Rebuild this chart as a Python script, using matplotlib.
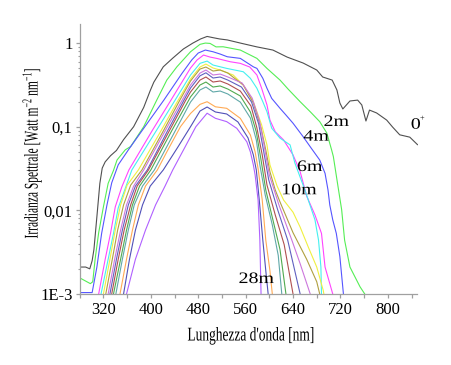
import numpy as np
import matplotlib
matplotlib.use("Agg")
import matplotlib.pyplot as plt
from matplotlib.patheffects import AbstractPathEffect
from matplotlib.transforms import Affine2D
from matplotlib.ticker import FixedLocator, FixedFormatter, MultipleLocator, LogLocator, NullFormatter

plt.rcParams['font.family'] = ['Liberation Serif', 'DejaVu Serif']
plt.rcParams['mathtext.fontset'] = 'custom'
plt.rcParams['mathtext.rm'] = 'Liberation Serif'
plt.rcParams['mathtext.it'] = 'Liberation Serif:italic'

# ---------------- data ----------------
x_ticks = [320, 400, 480, 560, 640, 720, 800]
y_ticks = [0.001, 0.01, 0.1, 1]
y_tick_labels = ['1E-3', '0,01', '0,1', '1']

wl_0m = [280, 290, 297, 301, 304, 309, 314, 318, 323, 332, 342, 354, 371, 388, 399, 405, 421, 437, 455, 471,
         484, 495, 505, 516, 529, 551, 579, 606, 630, 657, 680, 690, 706, 714, 719, 724, 736, 749, 756, 763,
         769, 781, 798, 808, 820, 837, 850]
irr_0m = [0.0021, 0.0021, 0.0020, 0.0025, 0.0034, 0.0084, 0.021, 0.032, 0.038, 0.045, 0.052, 0.070, 0.10, 0.17,
          0.27, 0.34, 0.52, 0.66, 0.85, 1.0, 1.12, 1.2, 1.16, 1.12, 1.09, 1.0, 0.9, 0.825, 0.68, 0.577, 0.476,
          0.393, 0.361, 0.275, 0.192, 0.163, 0.203, 0.208, 0.182, 0.117, 0.158, 0.146, 0.12, 0.099, 0.08, 0.075,
          0.061]

wl_2m = [280, 298, 302, 306, 312, 320, 328, 337, 343, 357, 366, 388, 410, 427, 444, 467, 483, 492, 500, 510,
         522, 551, 579, 596, 618, 632, 652, 669, 685, 697, 705, 708, 716, 722, 727, 736, 753, 761]
irr_2m = [0.00156, 0.00133, 0.0014, 0.0026, 0.0054, 0.011, 0.021, 0.030, 0.040, 0.053, 0.058, 0.10, 0.208,
          0.361, 0.52, 0.787, 0.965, 1.0, 0.99, 0.90, 0.903, 0.825, 0.656, 0.498, 0.361, 0.28, 0.199, 0.151,
          0.115, 0.084, 0.053, 0.044, 0.019, 0.0102, 0.0044, 0.0021, 0.00122, 0.001]

wl_4m = [280, 301, 309, 317, 326, 334, 345, 362, 386, 422, 453, 469, 480, 492, 505, 517, 529, 551, 573, 579,
         589, 596, 604, 618, 628, 640, 657, 671, 685, 694, 699, 702, 707, 713, 719, 725]
irr_4m = [0.00104, 0.00104, 0.0021, 0.0053, 0.0116, 0.0213, 0.035, 0.0527, 0.0914, 0.208, 0.438, 0.627, 0.76,
          0.825, 0.787, 0.739, 0.686, 0.656, 0.52, 0.498, 0.379, 0.288, 0.218, 0.166, 0.138, 0.11, 0.076,
          0.055, 0.040, 0.0277, 0.0175, 0.0116, 0.0077, 0.0053, 0.0028, 0.001]

wl_6m = [312, 323, 332, 340, 351, 363, 403, 434, 467, 478, 489, 500, 511, 534, 551, 567, 579, 587, 596, 601,
         610, 624, 640, 652, 663, 677, 688, 694, 707]
irr_6m = [0.001, 0.0026, 0.0053, 0.011, 0.019, 0.0304, 0.0914, 0.208, 0.503, 0.627, 0.719, 0.68, 0.656, 0.598,
          0.572, 0.517, 0.415, 0.288, 0.182, 0.12, 0.087, 0.0695, 0.046, 0.029, 0.0148, 0.0088, 0.0053, 0.0021,
          0.001]

wl_8m = [316, 328, 337, 345, 357, 368, 410, 441, 467, 483, 495, 505, 528, 556, 568, 579, 589, 596, 604, 618,
         635, 643, 660, 677, 683, 687, 688]
irr_8m = [0.001, 0.0026, 0.0053, 0.0107, 0.0184, 0.0304, 0.0914, 0.208, 0.415, 0.572, 0.609, 0.546, 0.498,
          0.454, 0.379, 0.288, 0.199, 0.151, 0.096, 0.073, 0.0606, 0.037, 0.0175, 0.0077, 0.0044, 0.0021, 0.001]

wl_10m = [320, 331, 340, 349, 360, 379, 418, 443, 467, 483, 493, 505, 517, 539, 556, 573, 587, 596, 601, 613,
          624, 640, 652, 666, 680, 691, 692]
irr_10m = [0.001, 0.0026, 0.0058, 0.0116, 0.020, 0.0304, 0.0914, 0.19, 0.372, 0.517, 0.561, 0.503, 0.476,
           0.415, 0.315, 0.199, 0.105, 0.0606, 0.035, 0.0196, 0.0133, 0.0095, 0.0063, 0.0036, 0.0021, 0.0011,
           0.001]

wl_12m = [324, 335, 344, 354, 366, 385, 422, 449, 467, 483, 493, 505, 517, 530, 556, 573, 586, 594, 601, 610,
          618, 640, 663, 680, 685]
irr_12m = [0.001, 0.0026, 0.0058, 0.0116, 0.020, 0.0304, 0.0914, 0.208, 0.352, 0.489, 0.517, 0.463, 0.476,
           0.438, 0.315, 0.192, 0.0966, 0.0527, 0.029, 0.0175, 0.0126, 0.0054, 0.0026, 0.0014, 0.001]

wl_14m = [328, 339, 349, 359, 371, 388, 425, 453, 467, 483, 493, 505, 517, 530, 554, 571, 583, 591, 600, 616,
          638, 652, 669]
irr_14m = [0.001, 0.0026, 0.0058, 0.0116, 0.0195, 0.0304, 0.0914, 0.208, 0.315, 0.438, 0.476, 0.415, 0.426,
           0.393, 0.333, 0.22, 0.12, 0.0606, 0.0265, 0.0117, 0.0044, 0.0023, 0.001]

wl_16m = [331, 342, 352, 362, 374, 394, 429, 456, 467, 483, 493, 505, 517, 530, 553, 570, 582, 590, 599, 614,
          631, 652]
irr_16m = [0.001, 0.0026, 0.0058, 0.0116, 0.0195, 0.0304, 0.0914, 0.208, 0.29, 0.406, 0.441, 0.382, 0.393,
           0.361, 0.298, 0.197, 0.108, 0.0527, 0.0231, 0.0102, 0.0044, 0.001]

wl_18m = [334, 345, 355, 366, 377, 396, 432, 459, 467, 483, 493, 505, 517, 530, 551, 569, 579, 588, 596, 610,
          625, 640]
irr_18m = [0.001, 0.0026, 0.0058, 0.0116, 0.0195, 0.0304, 0.0914, 0.208, 0.26, 0.361, 0.393, 0.342, 0.352,
           0.324, 0.267, 0.177, 0.0967, 0.046, 0.0201, 0.0088, 0.0039, 0.001]

wl_20m = [337, 349, 359, 369, 381, 400, 436, 467, 483, 493, 505, 517, 530, 551, 568, 578, 586, 594, 606, 618,
          628]
irr_20m = [0.001, 0.0026, 0.0058, 0.0116, 0.0195, 0.0304, 0.0914, 0.227, 0.315, 0.342, 0.298, 0.307, 0.282,
           0.233, 0.15, 0.0866, 0.040, 0.0175, 0.0077, 0.0034, 0.001]

wl_22m = [341, 352, 362, 372, 386, 406, 442, 467, 483, 493, 505, 517, 530, 551, 568, 578, 584, 593, 605, 615,
          621]
irr_22m = [0.001, 0.0026, 0.0058, 0.0116, 0.0195, 0.0304, 0.0914, 0.197, 0.275, 0.298, 0.26, 0.267, 0.246,
           0.197, 0.127, 0.0695, 0.035, 0.0153, 0.0067, 0.0029, 0.001]

wl_24m = [348, 359, 369, 379, 391, 411, 427, 450, 467, 483, 495, 509, 528, 551, 568, 576, 581, 588, 594, 601,
          605]
irr_24m = [0.001, 0.0026, 0.0058, 0.0116, 0.0195, 0.0304, 0.05, 0.1, 0.144, 0.185, 0.199, 0.173, 0.166,
           0.126, 0.0797, 0.05, 0.0317, 0.0133, 0.0044, 0.0019, 0.001]

wl_26m = [354, 364, 374, 386, 399, 421, 446, 467, 483, 495, 509, 528, 547, 564, 573, 578, 583, 589, 594, 598]
irr_26m = [0.001, 0.0026, 0.0058, 0.0116, 0.0195, 0.0304, 0.0576, 0.1, 0.154, 0.172, 0.15, 0.142, 0.114,
           0.0735, 0.046, 0.0304, 0.0133, 0.0044, 0.0019, 0.001]

wl_28m = [359, 374, 391, 408, 424, 437, 458, 476, 495, 509, 528, 545, 562, 568, 573, 576, 581, 584, 586]
irr_28m = [0.001, 0.0026, 0.0058, 0.0116, 0.0195, 0.0304, 0.0576, 0.1, 0.145, 0.126, 0.115, 0.0958, 0.066,
           0.05, 0.035, 0.0265, 0.0133, 0.0044, 0.001]

depth_names = ['0m', '2m', '4m', '6m', '8m', '10m', '12m', '14m', '16m', '18m', '20m', '22m', '24m', '26m', '28m']
curve_colors = ['#505050', '#55ee55', '#5555ff', '#ff44ff', '#44f0f0', '#f0f040', '#b0a040', '#cc77dd',
                '#6060c0', '#b05050', '#50aa50', '#60a8a8', '#ffaa55', '#5050b8', '#b060ff']

curve_label_text = ['2m', '4m', '6m', '10m', '28m', '0']
curve_label_x = [713, 679, 668, 650, 578, 847]
curve_label_y = [0.114, 0.076, 0.033, 0.0174, 0.00151, 0.1056]


# ---------------- text squeeze effect (keeps real text) ----------------
class Squeeze(AbstractPathEffect):
    def __init__(self, sx=1.0, sy=1.0):
        super().__init__()
        self.sx = sx
        self.sy = sy

    def draw_path(self, renderer, gc, tpath, affine, rgbFace=None):
        if len(tpath.vertices) == 0:
            return
        v = affine.transform(tpath.vertices)
        cx = 0.5 * (v[:, 0].min() + v[:, 0].max())
        cy = 0.5 * (v[:, 1].min() + v[:, 1].max())
        t = affine + Affine2D().translate(-cx, -cy).scale(self.sx, self.sy).translate(cx, cy)
        renderer.draw_path(gc, tpath, t, rgbFace)


W, H = 452, 365
fig = plt.figure(figsize=(W / 100, H / 100), dpi=100)
ax = fig.add_axes([79.7 / W, 71 / H, 337.8 / W, 270 / H])

curves = [(wl_0m, irr_0m), (wl_2m, irr_2m), (wl_4m, irr_4m), (wl_6m, irr_6m), (wl_8m, irr_8m),
          (wl_10m, irr_10m), (wl_12m, irr_12m), (wl_14m, irr_14m), (wl_16m, irr_16m), (wl_18m, irr_18m),
          (wl_20m, irr_20m), (wl_22m, irr_22m), (wl_24m, irr_24m), (wl_26m, irr_26m), (wl_28m, irr_28m)]

for (wl, irr), c, name in zip(curves, curve_colors, depth_names):
    ax.plot(wl, irr, color=c, lw=0.8, label=name)

ax.set_yscale('log')
ax.set_xlim(280, 850)
ax.set_ylim(0.001, 1.69)

for s in ['top', 'right']:
    ax.spines[s].set_visible(False)
for s in ['left', 'bottom']:
    ax.spines[s].set_color('#a0a0a0')
    ax.spines[s].set_linewidth(0.9)

ax.xaxis.set_major_locator(FixedLocator(x_ticks))
ax.xaxis.set_major_formatter(FixedFormatter([str(v) for v in x_ticks]))
ax.xaxis.set_minor_locator(MultipleLocator(40))
ax.yaxis.set_major_locator(FixedLocator(y_ticks))
ax.yaxis.set_major_formatter(FixedFormatter(y_tick_labels))
ax.yaxis.set_minor_locator(LogLocator(base=10, subs=np.arange(2, 10)))
ax.yaxis.set_minor_formatter(NullFormatter())

ax.tick_params(axis='x', which='both', direction='out', length=3, width=0.9, color='#a0a0a0',
               labelsize=12, pad=3)
ax.tick_params(axis='y', which='major', direction='out', length=2.6, width=0.9, color='#a0a0a0',
               labelsize=12, pad=2.5)
ax.tick_params(axis='y', which='minor', direction='out', length=1.6, width=0.8, color='#a0a0a0')

ax.set_xlabel("Lunghezza d'onda [nm]", fontsize=14, path_effects=[Squeeze(0.69, 1.0)])
ax.xaxis.set_label_coords((251.5 - 79.7) / 337.8, (294 - 336) / 270)
ax.xaxis.label.set_va('center')
ax.set_ylabel(r"Irradianza Spettrale [Watt m$^{-2}$ nm$^{-1}$]", fontsize=14,
              path_effects=[Squeeze(1.0, 0.59)])
ax.yaxis.set_label_coords((32 - 79.7) / 337.8, (294 - 152.5) / 270)
ax.yaxis.label.set_va('center')

for t, x, y in zip(curve_label_text, curve_label_x, curve_label_y):
    ax.text(x, y, t, fontsize=11.5, ha='center', va='center', clip_on=False,
            path_effects=[Squeeze(1.25, 1.0)])
ax.text(857, 0.125, '+', fontsize=6, ha='center', va='center', clip_on=False)

fig.savefig('out.png', dpi=100)
